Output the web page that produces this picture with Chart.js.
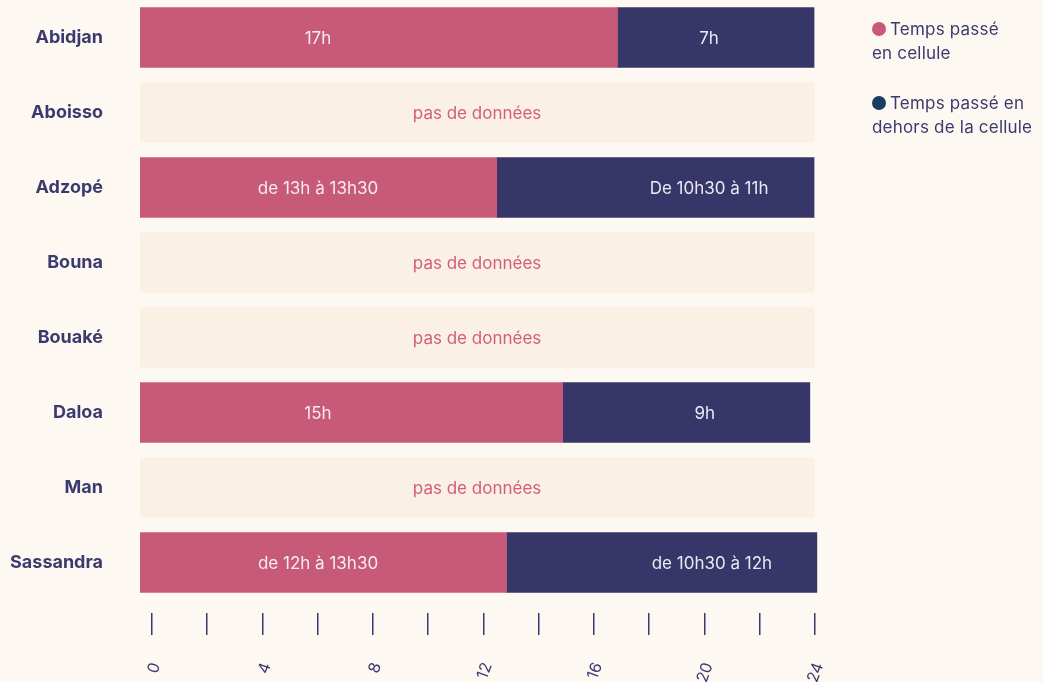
<!DOCTYPE html>
<html lang="fr">
<head>
<meta charset="UTF-8">
<title>Temps passé en cellule</title>
<script src="https://cdn.jsdelivr.net/npm/chart.js@4.4.1/dist/chart.umd.min.js"></script>
<style>
  html, body { margin: 0; padding: 0; background: #fdf8f2; }
  #wrap { position: relative; width: 1043px; height: 682px; }
  #legend { position: absolute; left: 872px; top: 17px; font-family: Inter, "Open Sans", sans-serif; font-size: 17px; letter-spacing: 0.2px; color: #3b3a6e; line-height: 24px; }
  #legend .item { margin-bottom: 26px; }
  #legend .dot { display: inline-block; width: 14px; height: 14px; border-radius: 50%; margin-right: 4px; vertical-align: -1px; }
</style>
</head>
<body>
<div id="wrap">
  <canvas id="chart" width="1043" height="682"></canvas>
  <div id="legend">
    <div class="item"><span class="dot" style="background:#c75a78"></span>Temps passé<br>en cellule</div>
    <div class="item"><span class="dot" style="background:#1c3d5e"></span>Temps passé en<br>dehors de la cellule</div>
  </div>
</div>
<script>
// values (hours)
const categories = ['Abidjan', 'Aboisso', 'Adzopé', 'Bouna', 'Bouaké', 'Daloa', 'Man', 'Sassandra'];
const inCell = [17, null, 12.7, null, null, 15.05, null, 13.05];
const outCell = [7, null, 11.3, null, null, 8.8, null, 11.05];
const noData = [null, 24, null, 24, 24, null, 24, null];
const inCellLabels = ['17h', '', 'de 13h à 13h30', '', '', '15h', '', 'de 12h à 13h30'];
const outCellLabels = ['7h', '', 'De 10h30 à 11h', '', '', '9h', '', 'de 10h30 à 12h'];
const noDataLabels = ['', 'pas de données', '', 'pas de données', 'pas de données', '', 'pas de données', ''];
const xTicks = [0, 2, 4, 6, 8, 10, 12, 14, 16, 18, 20, 22, 24];

const FONT = 'Inter, "Open Sans", sans-serif';
const NAVY_TEXT = '#3b3a6e';

// writes the text inside each bar
const barText = {
  id: 'barText',
  afterDatasetsDraw(chart) {
    const ctx = chart.ctx;
    ctx.save();
    ctx.font = '17px ' + FONT;
    ctx.textAlign = 'center';
    ctx.textBaseline = 'middle';
    chart.data.datasets.forEach((ds, i) => {
      chart.getDatasetMeta(i).data.forEach((bar, j) => {
        const txt = ds.texts[j];
        if (!txt) return;
        const left = Math.min(bar.x, bar.base);
        const right = Math.max(bar.x, bar.base);
        let x = (left + right) / 2;
        if (ds.place === 'start') x = left + 178;
        if (ds.place === 'end') x = right - 105;
        ctx.fillStyle = ds.textColor;
        ctx.fillText(txt, x, bar.y + 1);
      });
    });
    ctx.restore();
  }
};

new Chart(document.getElementById('chart'), {
  type: 'bar',
  data: {
    labels: categories,
    datasets: [
      { label: 'Temps passé en cellule', data: inCell, backgroundColor: '#c75a78', texts: inCellLabels, textColor: '#f7ebf0', place: 'start' },
      { label: 'Temps passé en dehors de la cellule', data: outCell, backgroundColor: '#373669', texts: outCellLabels, textColor: '#ece8f2', place: 'end' },
      { label: 'pas de données', data: noData, backgroundColor: '#faf0e4', texts: noDataLabels, textColor: '#d35c7f', place: 'center' }
    ]
  },
  options: {
    indexAxis: 'y',
    responsive: false,
    animation: false,
    layout: { padding: { left: 10, right: 225, top: 0, bottom: 0 } },
    datasets: { bar: { barThickness: 60, borderWidth: 0 } },
    plugins: { legend: { display: false }, tooltip: { enabled: false } },
    scales: {
      x: { stacked: true, min: 0, max: 24.14, display: false },
      x2: {
        type: 'linear',
        position: 'bottom',
        min: -0.434,
        max: 24.11,
        afterBuildTicks: s => { s.ticks = xTicks.map(v => ({ value: v })); },
        grid: { drawOnChartArea: false, tickLength: 35, tickBorderDash: [0, 13, 22, 100], color: NAVY_TEXT, lineWidth: 1.5 },
        border: { display: false },
        ticks: {
          autoSkip: false, minRotation: 70, maxRotation: 70, padding: 25, labelOffset: 4,
          font: { family: FONT, size: 16 }, color: NAVY_TEXT,
          callback: v => (v % 4 === 0 ? v : '')
        },
        afterFit: s => { s.height = 82; }
      },
      y: {
        stacked: true,
        grid: { display: false },
        border: { display: false },
        ticks: { padding: 29, font: { family: FONT, size: 18, weight: 'bold' }, color: NAVY_TEXT },
        afterFit: s => { s.width = 130; s.paddingTop = 0; s.paddingBottom = 0; }
      }
    }
  },
  plugins: [barText]
});
</script>
</body>
</html>
